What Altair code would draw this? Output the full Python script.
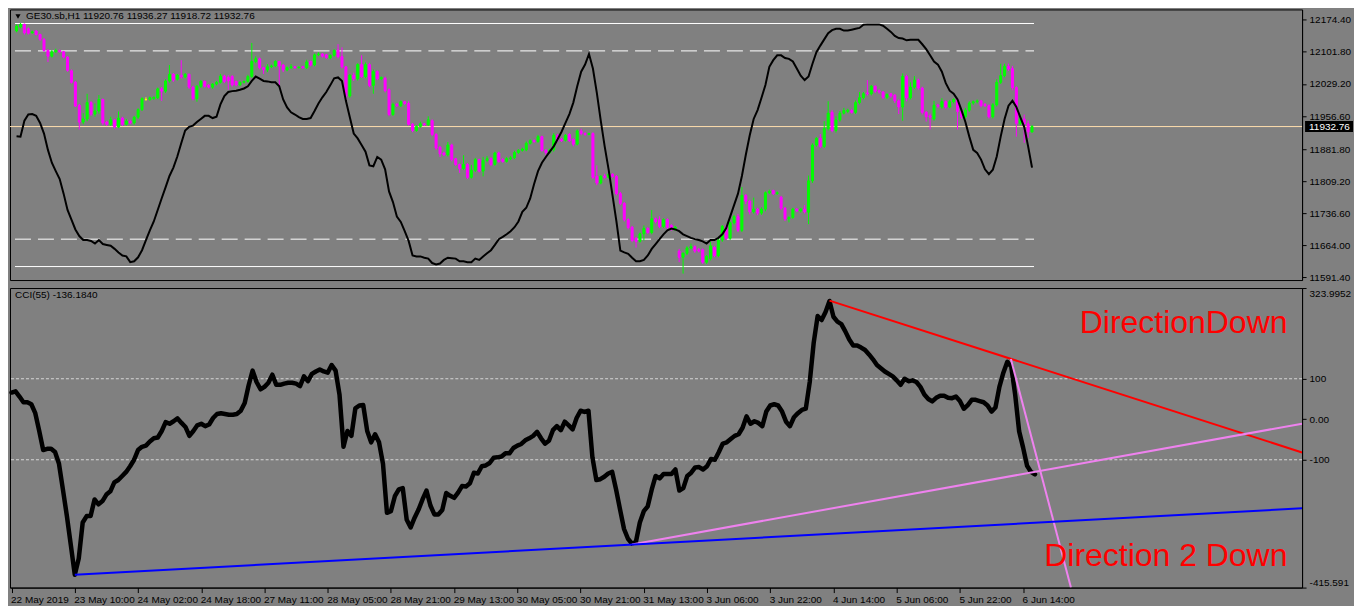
import altair as alt
import pandas as pd

FONT = "Liberation Sans"
SYMBOL_TITLE = "GE30.sb,H1  11920.76 11936.27 11918.72 11932.76"
CCI_TITLE = "CCI(55) -136.1840"
LAST_LABEL = "11932.76"

# ---------------- price candles (H1 bars, index 0..259) ----------------
OPEN = [
 12149,12158,12164,12154,12145,12149,12141,12130,12105,12092,
 12102,12105,12102,12090,12059,12033,11981,11943,11950,11987,
 11961,11968,11994,11943,11938,11948,11932,11952,11938,11945,
 11941,11954,11971,11994,11994,11996,11998,12018,12013,12036,
 12051,12040,12049,12045,12051,12022,11996,12024,12035,12026,
 12022,12029,12033,12047,12044,12046,12035,12027,12033,12035,
 12046,12080,12086,12066,12061,12068,12070,12080,12072,12061,
 12066,12068,12066,12068,12066,12080,12072,12095,12097,12095,
 12088,12094,12106,12091,12068,12002,12049,12041,12073,12046,
 12073,12026,12057,12041,12042,12016,11960,11983,11980,11989,
 11985,11938,11924,11933,11939,11937,11946,11915,11886,11873,
 11869,11891,11860,11847,11838,11847,11818,11834,11858,11832,
 11856,11860,11847,11873,11858,11854,11860,11862,11874,11879,
 11880,11895,11901,11899,11910,11879,11874,11880,11913,11904,
 11902,11915,11904,11893,11923,11917,11915,11917,11820,11805,
 11821,11818,11825,11820,11781,11759,11722,11705,11680,11673,
 11690,11702,11693,11724,11722,11707,11722,11709,11700,11651,
 11637,11646,11658,11661,11654,11654,11626,11634,11659,11641,
 11676,11707,11680,11715,11729,11698,11777,11764,11740,11746,
 11737,11746,11783,11788,11781,11773,11748,11724,11727,11746,
 11742,11746,11739,11810,11891,11906,11888,11928,11965,11924,
 11948,11963,11967,11969,11965,11987,11998,12009,12007,12024,
 12014,12011,11999,12007,12004,11991,11977,12046,11998,12022,
 12038,12020,11965,11957,11950,11981,11977,11989,11977,11989,
 11994,11968,11955,11970,11986,11989,11991,11983,11980,11955,
 11982,12033,12048,12069,12064,12021,11940,11950,11939,11920.76]

HIGH = [
 12164,12167,12166,12157,12150,12151,12143,12133,12108,12106,
 12109,12107,12104,12092,12062,12036,11984,11963,12007,11990,
 11985,12004,11996,11946,11955,11950,11967,11955,11950,11948,
 11957,11974,11999,11999,12001,12001,12021,12022,12040,12072,
 12054,12052,12083,12054,12053,12025,12027,12038,12037,12029,
 12031,12036,12052,12050,12049,12049,12037,12035,12037,12050,
 12122,12092,12089,12068,12074,12073,12083,12082,12074,12069,
 12074,12070,12069,12070,12084,12082,12098,12101,12099,12097,
 12096,12108,12119,12112,12070,12052,12055,12076,12094,12078,
 12077,12062,12060,12046,12046,12019,11987,11986,11992,11991,
 11990,11941,11936,11944,11941,11956,11949,11918,11889,11876,
 11898,11894,11862,11849,11868,11850,11846,11862,11860,11864,
 11866,11863,11876,11876,11862,11864,11866,11878,11882,11885,
 11899,11904,11904,11914,11912,11882,11883,11918,11916,11907,
 11916,11918,11906,11926,11928,11920,11919,11920,11845,11823,
 11826,11828,11827,11823,11785,11762,11725,11708,11683,11693,
 11709,11705,11744,11727,11730,11725,11725,11712,11708,11656,
 11648,11662,11668,11664,11658,11657,11642,11672,11662,11680,
 11710,11711,11718,11733,11735,11796,11780,11767,11772,11749,
 11750,11786,11790,11790,11786,11776,11751,11730,11749,11748,
 11749,11755,11822,11895,11909,11916,11945,11990,11970,11956,
 11968,11975,11973,11972,11992,12011,12011,12038,12027,12026,
 12017,12013,12008,12009,12006,11994,12053,12050,12033,12047,
 12041,12023,11968,11962,11991,11984,11997,11992,11993,11997,
 11997,11972,11975,11990,11992,11994,11993,11986,11983,11986,
 12040,12075,12075,12075,12070,12024,11960,11960,11946,11936.27]

LOW = [
 12146,12155,12141,12141,12143,12139,12127,12102,12079,12089,
 12099,12100,12087,12057,12030,11977,11926,11938,11945,11957,
 11955,11962,11936,11934,11934,11928,11929,11934,11935,11938,
 11937,11950,11968,11991,11991,11993,11995,11991,12009,12032,
 12034,12037,12041,12042,12018,11992,11989,12020,12021,12019,
 12018,12026,12030,12031,12016,12023,12024,12024,12030,12032,
 12043,12076,12062,12052,12056,12065,12067,12024,12056,12058,
 12063,12064,12064,12064,12063,12069,12069,12092,12089,12086,
 12085,12091,12087,12064,11991,11998,12036,12037,12043,12042,
 12022,12007,12038,12038,12010,11956,11957,11977,11977,11982,
 11935,11920,11921,11930,11934,11934,11911,11880,11864,11866,
 11865,11854,11844,11828,11835,11814,11815,11830,11829,11820,
 11852,11843,11844,11851,11851,11851,11857,11859,11871,11876,
 11877,11892,11896,11896,11876,11868,11871,11876,11898,11898,
 11899,11898,11888,11890,11913,11912,11913,11814,11800,11802,
 11815,11815,11817,11777,11755,11718,11700,11671,11659,11670,
 11675,11690,11689,11714,11703,11703,11701,11697,11697,11626,
 11600,11642,11655,11647,11648,11622,11622,11630,11637,11637,
 11672,11676,11676,11711,11694,11694,11757,11734,11736,11732,
 11733,11741,11780,11778,11778,11744,11719,11716,11724,11739,
 11738,11736,11712,11805,11887,11884,11884,11924,11920,11919,
 11944,11960,11963,11962,11961,11983,11994,12003,12003,12009,
 12007,11995,11995,11998,11986,11961,11946,11990,11994,12018,
 12016,11960,11944,11926,11946,11975,11973,11973,11974,11985,
 11926,11950,11951,11966,11982,11985,11976,11977,11951,11951,
 11978,12029,12044,12059,12015,11910,11936,11896,11907,11918.72]

CLOSE = [
 12160,12164,12145,12144,12147,12141,12130,12105,12092,12102,
 12105,12102,12090,12060,12033,11979,11943,11950,11987,11961,
 11968,11994,11941,11938,11948,11932,11952,11938,11945,11941,
 11954,11971,11996,11994,11998,11999,12018,12013,12036,12051,
 12038,12049,12045,12051,12022,11996,12024,12035,12024,12022,
 12029,12033,12047,12035,12036,12027,12027,12033,12035,12046,
 12080,12086,12066,12061,12068,12070,12080,12070,12061,12066,
 12068,12066,12067,12066,12079,12072,12095,12097,12092,12089,
 12094,12105,12091,12068,12002,12049,12041,12073,12046,12073,
 12026,12057,12041,12044,12014,11960,11983,11980,11989,11985,
 11938,11924,11933,11939,11937,11948,11915,11884,11871,11869,
 11891,11858,11847,11838,11847,11818,11834,11858,11832,11856,
 11860,11847,11873,11854,11854,11860,11862,11874,11879,11882,
 11895,11901,11899,11910,11879,11874,11880,11913,11902,11901,
 11913,11901,11893,11923,11917,11915,11917,11818,11805,11820,
 11818,11825,11820,11781,11759,11722,11704,11675,11673,11690,
 11702,11693,11724,11718,11707,11722,11705,11700,11705,11637,
 11646,11658,11661,11651,11651,11626,11639,11663,11641,11676,
 11707,11680,11715,11729,11698,11777,11764,11740,11746,11737,
 11746,11783,11786,11781,11783,11748,11724,11727,11746,11742,
 11746,11740,11810,11891,11906,11888,11928,11963,11924,11948,
 11963,11969,11970,11965,11987,11998,12007,12007,12024,12013,
 12011,11999,12005,12002,11991,11977,12046,11998,12022,12038,
 12020,11965,11955,11954,11981,11979,11989,11977,11989,11994,
 11967,11955,11970,11986,11989,11991,11980,11980,11955,11982,
 12033,12048,12069,12063,12021,11940,11950,11939,11921,11932.76]

# black oscillator-style overlay drawn on the price scale
OVERLAY = [
 11911,11910,11946,11960,11961,11957,11941,11917,11880,11851,
 11832,11814,11781,11744,11722,11700,11685,11676,11676,11674,
 11668,11676,11667,11665,11663,11656,11648,11641,11639,11626,
 11628,11637,11653,11676,11698,11718,11744,11770,11795,11821,
 11840,11865,11895,11924,11932,11935,11943,11950,11957,11957,
 11952,11955,11983,12002,12011,12013,12014,12016,12019,12024,
 12036,12046,12041,12036,12035,12033,12033,12024,11994,11976,
 11965,11960,11954,11950,11950,11952,11968,11985,11999,12011,
 12026,12042,12044,12036,11991,11954,11917,11906,11891,11876,
 11845,11843,11864,11858,11836,11786,11762,11729,11717,11696,
 11674,11641,11639,11639,11636,11634,11624,11621,11623,11631,
 11636,11635,11634,11628,11628,11626,11626,11634,11631,11639,
 11646,11653,11665,11678,11683,11689,11696,11705,11718,11740,
 11749,11770,11803,11832,11851,11864,11876,11888,11904,11921,
 11941,11961,11987,12024,12057,12073,12097,12064,12009,11946,
 11888,11836,11777,11718,11652,11648,11645,11636,11628,11628,
 11631,11641,11656,11667,11678,11689,11698,11702,11700,11696,
 11689,11685,11681,11678,11676,11673,11668,11676,11676,11681,
 11689,11703,11729,11755,11781,11821,11869,11913,11950,11970,
 11998,12027,12068,12083,12094,12094,12088,12086,12080,12064,
 12048,12038,12046,12075,12101,12116,12130,12144,12151,12154,
 12154,12150,12150,12152,12154,12156,12163,12164,12164,12164,
 12164,12161,12154,12147,12138,12133,12132,12128,12129,12129,
 12129,12119,12108,12094,12080,12073,12057,12031,12014,12007,
 11994,11970,11943,11910,11880,11873,11858,11836,11825,11835,
 11865,11910,11950,11980,11991,11977,11954,11932,11888,11840]

# CCI(55)
CCI = [
 66,69,56,42,42,37,15,-29,-76,-73,
 -73,-81,-110,-174,-239,-311,-384,-344,-255,-239,
 -239,-198,-210,-202,-186,-178,-156,-150,-140,-130,
 -116,-100,-76,-68,-65,-55,-47,-45,-29,-7,
 -11,-5,2,-9,-19,-41,-29,-15,-11,-17,
 -13,3,13,15,13,11,11,13,21,40,
 84,120,92,74,80,90,110,85,85,88,
 90,90,88,82,106,94,112,118,123,118,
 115,134,120,60,-68,-29,-41,27,34,35,
 -29,-57,-37,-57,-110,-231,-227,-190,-173,-170,
 -248,-267,-243,-223,-198,-176,-213,-235,-235,-224,
 -182,-189,-194,-181,-165,-166,-158,-132,-134,-116,
 -114,-108,-95,-94,-92,-84,-84,-71,-65,-61,
 -52,-47,-41,-31,-47,-60,-53,-27,-17,-27,
 -6,-15,-25,3,21,18,21,-94,-150,-148,
 -142,-134,-130,-174,-223,-271,-295,-307,-303,-255,
 -227,-215,-174,-140,-146,-135,-135,-135,-124,-176,
 -170,-140,-132,-119,-118,-124,-116,-98,-100,-81,
 -60,-57,-49,-41,-37,-21,7,-11,-5,-9,
 -17,19,34,37,34,19,-6,-17,5,15,
 23,26,92,189,255,245,265,292,253,241,
 235,217,197,182,182,177,171,160,148,134,
 126,118,112,106,96,85,100,94,96,92,
 80,61,50,44,53,58,58,53,52,56,
 45,26,35,48,48,45,42,34,19,29,
 80,115,142,130,60,-30,-70,-115,-130,-136.184]

# horizontal levels on the price panel
SOLID_LEVELS = [12166, 11616]
DASHED_LEVELS = [12104, 11678]
CCI_LEVELS = [100, -100]

PRICE_TICKS = [12174.40, 12101.80, 12029.20, 11956.60, 11881.80, 11809.20, 11736.60, 11664.00, 11591.40]
PRICE_DOMAIN = [11585.5, 12197.8]
CCI_TICKS = [323.9952, 100, 0, -100, -415.591]
CCI_TICK_LABELS = ["323.9952", "100", "0.00", "-100", "-415.591"]

TIME_LABELS = ["22 May 2019", "23 May 10:00", "24 May 02:00", "24 May 18:00", "27 May 11:00",
               "28 May 05:00", "28 May 21:00", "29 May 13:00", "30 May 05:00", "30 May 21:00",
               "31 May 13:00", "3 Jun 06:00", "3 Jun 22:00", "4 Jun 14:00", "5 Jun 06:00",
               "5 Jun 22:00", "6 Jun 14:00"]
BARS_PER_LABEL = 16
X_DOMAIN = [-0.4, 326.6]

# trend lines on the CCI panel (bar index, CCI value)
TREND_NAME = ["red", "red", "pink1", "pink1", "pink2", "pink2", "blue", "blue"]
TREND_X = [207, 326.6, 157, 326.6, 252.9, 268.1, 16, 326.6]
TREND_Y = [293, -82, -309, -11, 149, -415.6, -384, -220]
TREND_COLORS = {"red": "#FF0000", "pink1": "#EE82EE", "pink2": "#EE82EE", "blue": "#0000FF"}

NOTE_TEXT = ["DirectionDown", "Direction 2 Down"]
NOTE_X = [322.9, 322.9]
NOTE_Y = [213.6, -362]

# ---------------- build ----------------
n = len(CLOSE)
idx = list(range(n))
dirs = ["up" if c > o else ("down" if c < o else "doji") for o, c in zip(OPEN, CLOSE)]
candles = pd.DataFrame({"i": idx, "o": OPEN, "h": HIGH, "l": LOW, "c": CLOSE,
                        "line": OVERLAY, "cci": CCI, "dir": dirs})

W, H1, H2 = 1294, 271, 300

xs = alt.Scale(domain=X_DOMAIN, nice=False, zero=False)
ps = alt.Scale(domain=PRICE_DOMAIN, nice=False, zero=False)
cs = alt.Scale(domain=[CCI_TICKS[-1], CCI_TICKS[0]], nice=False, zero=False)
cscale = alt.Scale(domain=["up", "down", "doji"], range=["#00FF00", "#FF00FF", "#FFFF00"])

pax = alt.Axis(orient="right", values=PRICE_TICKS, format=".2f", title=None, grid=False,
               tickSize=4, labelPadding=3, labelFont=FONT, labelFontSize=10,
               labelColor="black", tickColor="black", domainColor="black",
               labelFlush=False, labelOverlap=False)


def PX(f):
    return alt.X(f, type="quantitative", scale=xs, axis=None)


def PY(f):
    return alt.Y(f, type="quantitative", scale=ps, axis=pax)


base = alt.Chart(candles)
wicks = base.mark_rule(strokeWidth=1).encode(
    x=PX("i"), y=PY("l"), y2="h", color=alt.Color("dir:N", scale=cscale, legend=None))
bodies = base.mark_bar(size=2, strokeWidth=1).encode(
    x=PX("i"), y=PY("o"), y2="c",
    color=alt.Color("dir:N", scale=cscale, legend=None),
    stroke=alt.Stroke("dir:N", scale=cscale, legend=None))
overlay = base.mark_line(color="black", strokeWidth=2).encode(x=PX("i"), y=PY("line"))

lv_end = idx[-1] + 0.5
solid_df = pd.DataFrame({"p": SOLID_LEVELS, "x0": [X_DOMAIN[0]] * len(SOLID_LEVELS), "x1": [lv_end] * len(SOLID_LEVELS)})
dash_df = pd.DataFrame({"p": DASHED_LEVELS, "x0": [X_DOMAIN[0]] * len(DASHED_LEVELS), "x1": [lv_end] * len(DASHED_LEVELS)})
solid = alt.Chart(solid_df).mark_rule(color="white", strokeWidth=1).encode(x=PX("x0"), x2="x1", y=PY("p"))
dashed = alt.Chart(dash_df).mark_rule(color="white", strokeWidth=1, strokeDash=[16, 7]).encode(
    x=PX("x0"), x2="x1", y=PY("p"))

last_df = pd.DataFrame({"p": [CLOSE[-1]], "lab": [LAST_LABEL]})
bidline = alt.Chart(last_df).mark_rule(color="#FFDEAD", strokeWidth=1).encode(y=PY("p"))
box = alt.Chart(last_df).mark_point(
    shape="M-1,-0.23L1,-0.23L1,0.23L-1,0.23Z", size=48 * 48, filled=True,
    color="black", opacity=1, strokeWidth=0).encode(x=alt.value(W + 27), y=PY("p"))
boxtext = alt.Chart(last_df).mark_text(
    align="left", baseline="middle", color="white", font=FONT, fontSize=10).encode(
    x=alt.value(W + 7), y=PY("p"), text="lab:N")

one = pd.DataFrame({"t": [SYMBOL_TITLE], "c": [CCI_TITLE]})
tri = alt.Chart(one).mark_point(shape="triangle-down", filled=True, color="black",
                                opacity=1, size=26).encode(x=alt.value(8), y=alt.value(7))
title_top = alt.Chart(one).mark_text(align="left", baseline="middle", font=FONT, fontSize=10,
                                     color="black").encode(x=alt.value(16), y=alt.value(7), text="t:N")

top = alt.layer(solid, dashed, bidline, wicks, bodies, overlay, box, boxtext, tri, title_top).properties(
    width=W, height=H1)

# ---- CCI panel ----
xlabels_js = "[" + ",".join("'" + s + "'" for s in TIME_LABELS) + "]"
xaxis = alt.Axis(orient="bottom", values=[k * BARS_PER_LABEL for k in range(len(TIME_LABELS))],
                 labelExpr=f"{xlabels_js}[round(datum.value / {BARS_PER_LABEL})]",
                 title=None, grid=False, tickSize=5, labelAlign="left", labelBaseline="top",
                 labelPadding=2, labelOffset=-1, labelFont=FONT, labelFontSize=10,
                 labelColor="black", tickColor="black", domainColor="black",
                 labelOverlap=False, labelFlush=False, labelBound=False)

cci_expr = "''"
for v, s in reversed(list(zip(CCI_TICKS, CCI_TICK_LABELS))):
    cci_expr = f"abs(datum.value - ({v})) < 0.001 ? '{s}' : {cci_expr}"
cax = alt.Axis(orient="right", values=CCI_TICKS, labelExpr=cci_expr, title=None, grid=False,
               tickSize=4, labelPadding=3, labelFont=FONT, labelFontSize=10, labelColor="black",
               tickColor="black", domainColor="black", labelFlush=True, labelOverlap=False)


def CX(f):
    return alt.X(f, type="quantitative", scale=xs, axis=xaxis)


def CY(f):
    return alt.Y(f, type="quantitative", scale=cs, axis=cax)


lev = alt.Chart(pd.DataFrame({"v": CCI_LEVELS})).mark_rule(
    color="#D6D6D6", strokeDash=[3, 2], strokeWidth=1).encode(y=CY("v"))
cci_line = base.mark_line(color="black", strokeWidth=4.5, strokeJoin="round", strokeCap="round").encode(
    x=CX("i"), y=CY("cci"))

trend_df = pd.DataFrame({"name": TREND_NAME, "tx": TREND_X, "ty": TREND_Y, "k": list(range(len(TREND_X)))})
trend_layers = []
for tname, tcolor in TREND_COLORS.items():
    trend_layers.append(
        alt.Chart(trend_df).transform_filter(alt.datum.name == tname).mark_line(
            clip=True, strokeWidth=2, color=tcolor).encode(x=CX("tx"), y=CY("ty"), order="k:Q"))

notes = alt.Chart(pd.DataFrame({"txt": NOTE_TEXT, "lx": NOTE_X, "ly": NOTE_Y})).mark_text(
    align="right", baseline="alphabetic", font=FONT, fontSize=32, color="#FF0000").encode(
    x=CX("lx"), y=CY("ly"), text="txt:N")

title_cci = alt.Chart(one).mark_text(align="left", baseline="middle", font=FONT, fontSize=10,
                                     color="black").encode(x=alt.value(5), y=alt.value(7), text="c:N")

bottom = alt.layer(lev, cci_line, *trend_layers, notes, title_cci).properties(width=W, height=H2)

chart = alt.vconcat(top, bottom, spacing=4).properties(
    background="#808080", padding=0
).configure_view(fill="#808080", stroke="black", strokeWidth=1)

chart.save("out.html", embed_options={"renderer": "svg", "actions": False})
